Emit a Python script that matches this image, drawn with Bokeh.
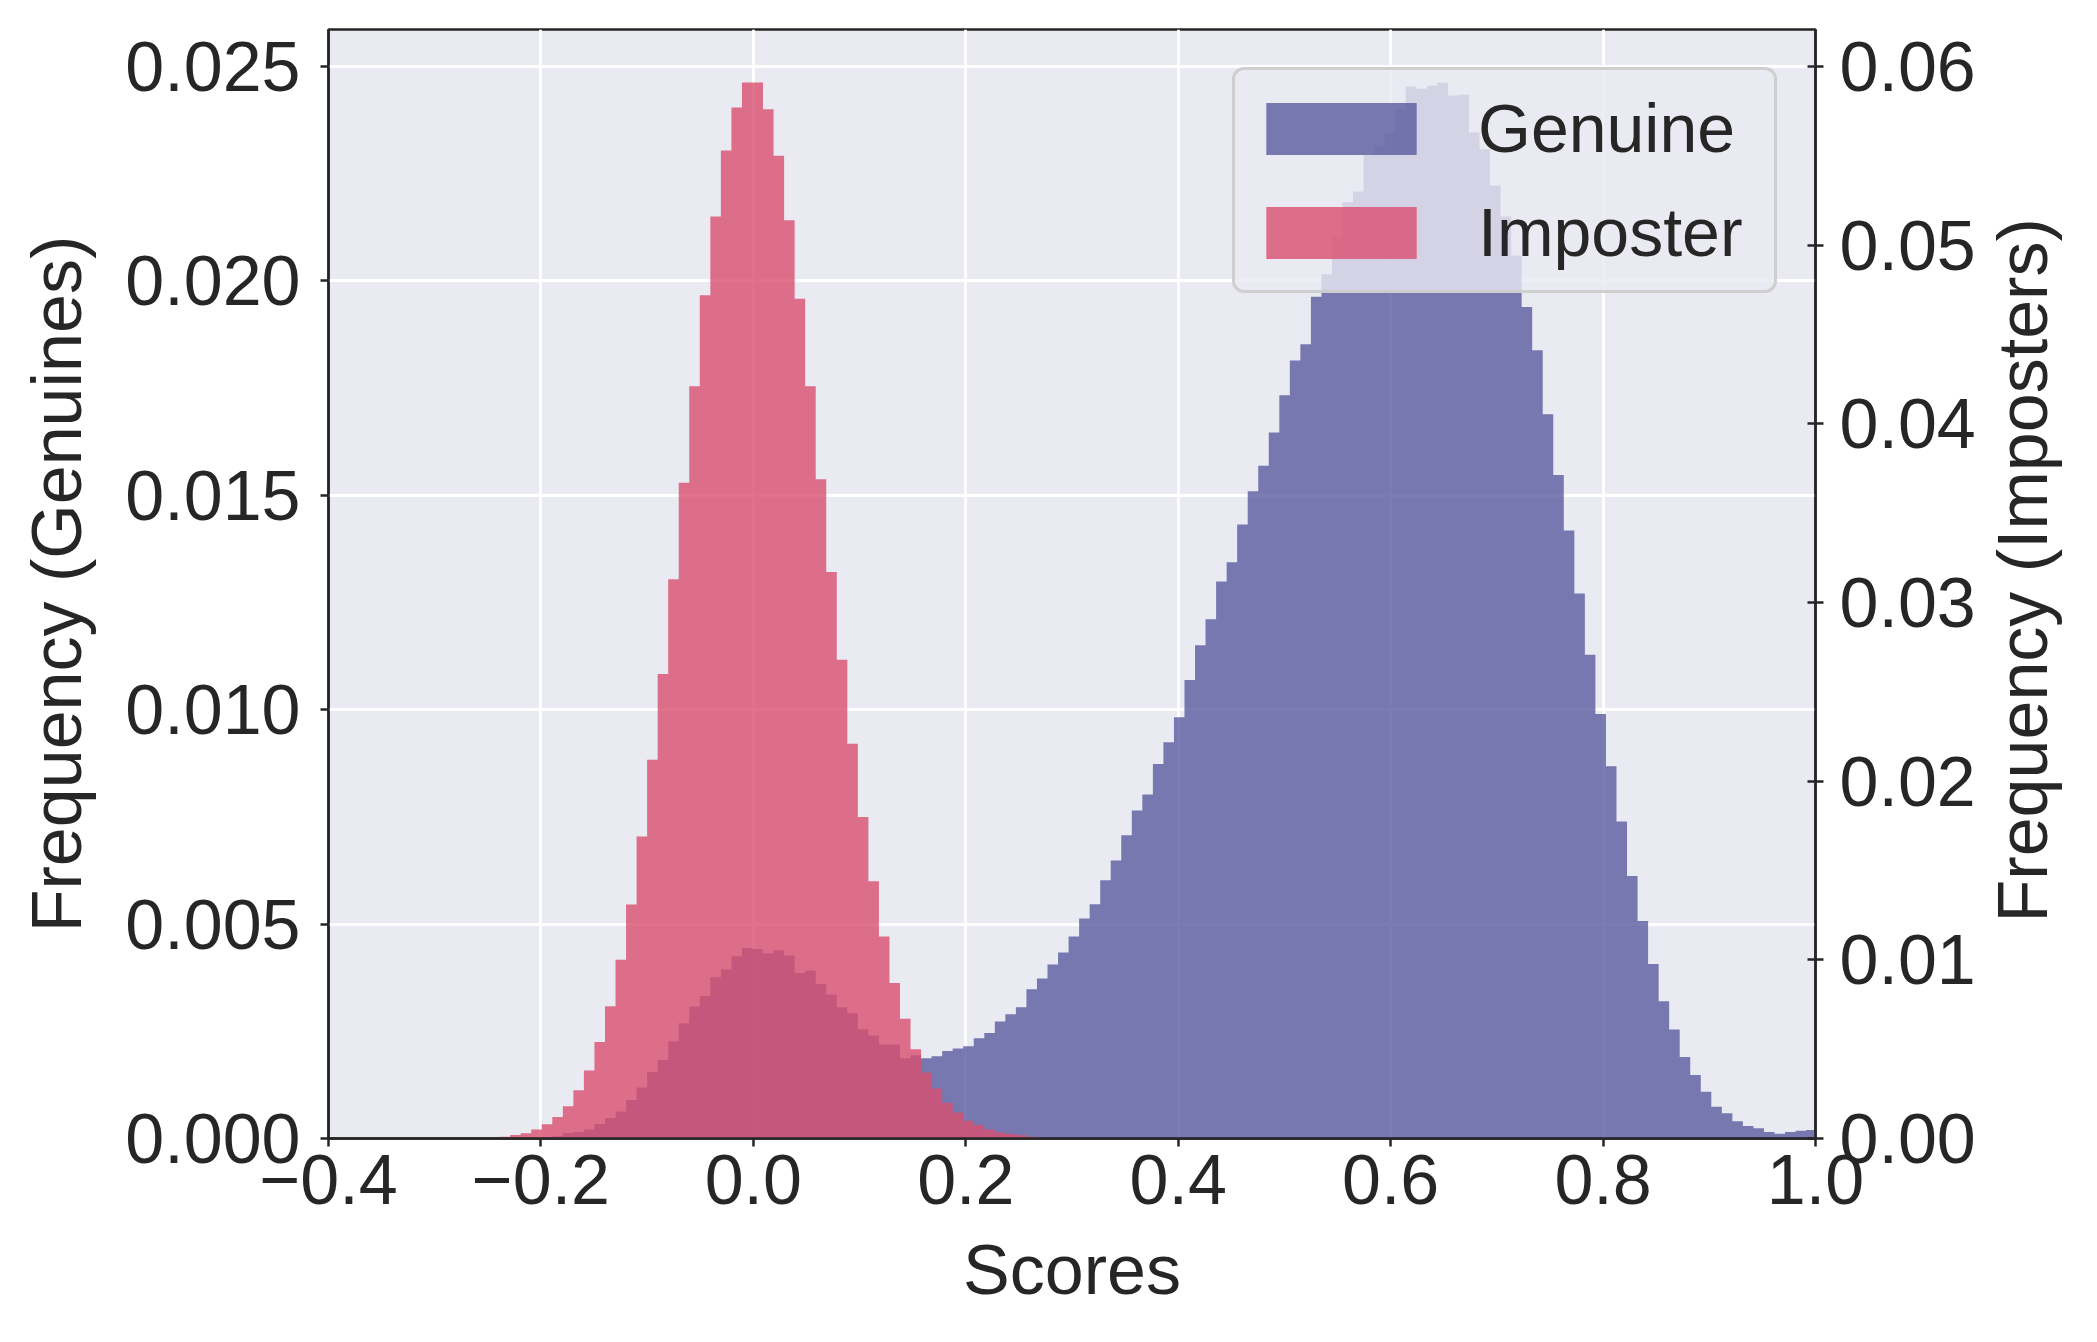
import math
import numpy as np
from bokeh.plotting import figure
from bokeh.layouts import row
from bokeh.core.properties import value
from bokeh.models import (ColumnDataSource, Range1d, LinearAxis, FixedTicker,
                          NumeralTickFormatter, CustomJSTickFormatter)
from bokeh.embed import file_html
from bokeh.resources import INLINE

# ---------------- data ----------------
# shared histogram bin grid (score axis)
bin_width = 0.00992
first_edge = -0.2389

# Genuine frequencies (left axis), starting at bin 5 of the grid
genuine_first_bin = 5
genuine_freq = [
    0.00005, 0.00013, 0.00015, 0.00021, 0.00034, 0.00048, 0.00063, 0.00090, 0.00119, 0.00155,
    0.00183, 0.00227, 0.00269, 0.00308, 0.00332, 0.00376, 0.00394, 0.00425, 0.00444, 0.00442,
    0.00432, 0.00439, 0.00427, 0.00386, 0.00392, 0.00360, 0.00336, 0.00306, 0.00292, 0.00255,
    0.00240, 0.00219, 0.00219, 0.00187, 0.00194, 0.00187, 0.00192, 0.00204, 0.00210, 0.00215,
    0.00234, 0.00246, 0.00273, 0.00290, 0.00306, 0.00348, 0.00373, 0.00406, 0.00434, 0.00471,
    0.00513, 0.00546, 0.00602, 0.00648, 0.00707, 0.00765, 0.00802, 0.00873, 0.00924, 0.00982,
    0.01069, 0.01150, 0.01211, 0.01299, 0.01344, 0.01432, 0.01509, 0.01569, 0.01646, 0.01733,
    0.01814, 0.01852, 0.01963, 0.02015, 0.02103, 0.02183, 0.02208, 0.02294, 0.02313, 0.02344,
    0.02399, 0.02453, 0.02448, 0.02455, 0.02462, 0.02432, 0.02434, 0.02346, 0.02307, 0.02222,
    0.02150, 0.02059, 0.01939, 0.01838, 0.01689, 0.01547, 0.01418, 0.01271, 0.01128, 0.00990,
    0.00868, 0.00739, 0.00612, 0.00507, 0.00407, 0.00320, 0.00254, 0.00190, 0.00148, 0.00109,
    0.00074, 0.00059, 0.00040, 0.00029, 0.00024, 0.00015, 0.00011, 0.00015, 0.00018, 0.00020,
]

# Imposter frequencies (right axis), starting at bin 0 of the grid
imposter_first_bin = 0
imposter_freq = [
    0.0001, 0.0002, 0.0003, 0.0005, 0.0008, 0.0012, 0.0018, 0.0027, 0.0038, 0.0054,
    0.0074, 0.0100, 0.0131, 0.0169, 0.0212, 0.0260, 0.0313, 0.0367, 0.0421, 0.0472,
    0.0516, 0.0553, 0.0577, 0.0591, 0.0591, 0.0576, 0.0550, 0.0514, 0.0470, 0.0421,
    0.0369, 0.0317, 0.0268, 0.0221, 0.0180, 0.0144, 0.0113, 0.0087, 0.0067, 0.0050,
    0.0037, 0.0028, 0.0020, 0.00145, 0.0010, 0.00076, 0.0005, 0.00034, 0.00026, 0.0002,
    0.0001,
]

x_ticks = [-0.4, -0.2, 0.0, 0.2, 0.4, 0.6, 0.8, 1.0]
genuine_ticks = [0.0, 0.005, 0.010, 0.015, 0.020, 0.025]
imposter_ticks = [0.0, 0.01, 0.02, 0.03, 0.04, 0.05, 0.06]

series_names = ["Genuine", "Imposter"]
x_label = "Scores"
y_label_left = "Frequency (Genuines)"
y_label_right = "Frequency (Imposters)"

# ---------------- helpers ----------------
def bins(first_bin, values):
    idx = np.arange(first_bin, first_bin + len(values))
    left = first_edge + idx * bin_width
    return left, left + bin_width

def add_hist(fig, first_bin, values, color, name, **kw):
    left, right = bins(first_bin, values)
    if hasattr(fig, "varea_step"):
        # one step outline per series: the histogram bars without seams
        xs = list(left) + [right[-1]]
        ys = list(values) + [values[-1]]
        src = ColumnDataSource(dict(x=xs, y1=[0.0] * len(xs), y2=ys))
        fig.varea_step(x="x", y1="y1", y2="y2", step_mode="after", source=src,
                       fill_color=color, fill_alpha=0.8, legend_label=name, **kw)
    else:
        src = ColumnDataSource(dict(left=left, right=right, top=values,
                                    bottom=[0.0] * len(values)))
        fig.quad(left="left", right="right", top="top", bottom="bottom", source=src,
                 fill_color=color, fill_alpha=0.8, line_color=None,
                 legend_label=name, **kw)

FONT = "Liberation Sans"
TXT = "#262626"
BG = "#eaeaf2"
FRAME_W, FRAME_H = 1487, 1109
TOP, LEFT, RIGHT, BOTTOM = 29, 328, 170, 204
TOTAL_W, TOTAL_H = 2097, TOP + FRAME_H + BOTTOM

p = figure(frame_width=FRAME_W, frame_height=FRAME_H,
           min_border_left=LEFT, min_border_right=RIGHT,
           min_border_top=TOP, min_border_bottom=BOTTOM,
           x_range=Range1d(-0.4, 1.0), y_range=Range1d(0, 0.02586),
           output_backend="svg", toolbar_location=None,
           background_fill_color=BG, border_fill_color="white")
p.extra_y_ranges = {"imp": Range1d(0, 0.06207)}

p.outline_line_color = TXT
p.outline_line_width = 2.5
p.outline_line_alpha = 1.0

add_hist(p, genuine_first_bin, genuine_freq, "#5a5b9d", series_names[0])
add_hist(p, imposter_first_bin, imposter_freq, "#da4f6f", series_names[1], y_range_name="imp")

# axes
def style_axis(ax, tick_in, tick_out, standoff, label_standoff):
    ax.axis_line_color = TXT
    ax.axis_line_width = 2.5
    ax.major_tick_line_color = TXT
    ax.major_tick_line_width = 2.5
    ax.major_tick_in = tick_in
    ax.major_tick_out = tick_out
    ax.minor_tick_line_color = None
    ax.major_label_text_font = FONT
    ax.major_label_text_font_size = "70px"
    ax.major_label_text_color = TXT
    ax.major_label_standoff = standoff
    ax.axis_label_text_font = FONT
    ax.axis_label_text_font_size = "70px"
    ax.axis_label_text_color = TXT
    ax.axis_label_text_font_style = "normal"
    ax.axis_label_standoff = label_standoff

xax = p.xaxis[0]
xax.ticker = FixedTicker(ticks=x_ticks)
xax.formatter = CustomJSTickFormatter(code="return tick.toFixed(1).replace('-', '\u2212');")
xax.axis_label = x_label
style_axis(xax, 0, 8, 8, 24)

yax = p.yaxis[0]
yax.ticker = FixedTicker(ticks=genuine_ticks)
yax.formatter = NumeralTickFormatter(format="0.000")
yax.axis_label = y_label_left
style_axis(yax, 0, 8, 20, 26)

rax = LinearAxis(y_range_name="imp")
rax.ticker = FixedTicker(ticks=imposter_ticks)
rax.formatter = NumeralTickFormatter(format="0.00")
style_axis(rax, 8, 8, 16, 14)
p.add_layout(rax, "right")

# grid
p.xgrid.ticker = FixedTicker(ticks=x_ticks)
p.ygrid.ticker = FixedTicker(ticks=genuine_ticks)
for g in (p.xgrid[0], p.ygrid[0]):
    g.grid_line_color = "white"
    g.grid_line_width = 2.8

# legend
lg = p.legend[0]
lg.location = "top_right"
lg.margin = 38
lg.padding = 12
lg.spacing = 12
lg.glyph_width = 188
lg.glyph_height = 65
lg.label_height = 92
lg.label_width = 284
lg.label_standoff = 43
lg.label_text_font = FONT
lg.label_text_font_size = "68px"
lg.label_text_color = TXT
lg.background_fill_color = BG
lg.background_fill_alpha = 0.8
lg.border_line_color = "#cccccc"
lg.border_line_width = 3
lg.border_line_alpha = 0.9
try:
    lg.border_radius = 12
except Exception:
    pass

# right-hand axis title (reads bottom-to-top like the left one), in a narrow strip
strip_w = TOTAL_W - (LEFT + FRAME_W + RIGHT)
q = figure(width=strip_w, height=TOTAL_H, min_border=0,
           x_range=Range1d(0, strip_w), y_range=Range1d(0, TOTAL_H),
           x_axis_location=None, y_axis_location=None,
           output_backend="svg", toolbar_location=None,
           background_fill_color="white", border_fill_color="white")
q.outline_line_color = None
q.grid.visible = False
q.text(x=[2022 - (LEFT + FRAME_W + RIGHT)], y=[TOTAL_H - (TOP + FRAME_H / 2) - 71],
       text=[y_label_right], angle=math.pi / 2,
       text_align="center", text_baseline="middle",
       text_font=value(FONT), text_font_size="70px", text_color=TXT)

open("out.html", "w").write(file_html(row(p, q), INLINE))
